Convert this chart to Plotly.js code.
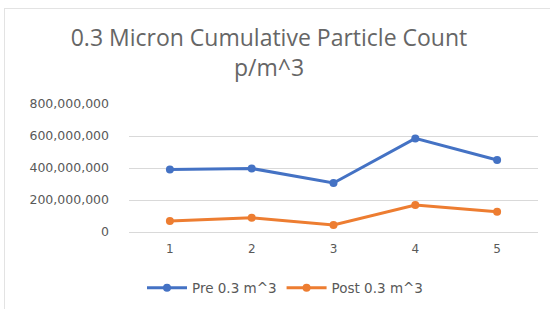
<!DOCTYPE html>
<html><head><meta charset="utf-8">
<script src="https://cdn.plot.ly/plotly-3.0.1.min.js"></script>
<style>html,body{margin:0;padding:0;background:#fff;}#frame{position:absolute;left:4px;top:8px;width:560px;height:320px;border:1px solid #e3e3e3;box-sizing:border-box;pointer-events:none;}</style>
</head><body>
<div id="chart" style="width:550px;height:309px;"></div>
<div id="frame"></div>
<script>
const categories = ["1", "2", "3", "4", "5"];
const preValues = [390000000, 397000000, 306000000, 585000000, 450000000];
const postValues = [69000000, 89000000, 44000000, 169000000, 127000000];
const yTicks = [0, 200000000, 400000000, 600000000, 800000000];
const yTickLabels = ["0", "200,000,000", "400,000,000", "600,000,000", "800,000,000"];

const wide = "DejaVu Sans, sans-serif";
const titleFont = "Open Sans, Lato, sans-serif";
const traces = [
  {x: categories, y: preValues, name: "Pre 0.3 m^3", type: "scatter", mode: "lines+markers",
   line: {color: "#4472C4", width: 3}, marker: {color: "#4472C4", size: 8}},
  {x: categories, y: postValues, name: "Post 0.3 m^3", type: "scatter", mode: "lines+markers",
   line: {color: "#ED7D31", width: 3}, marker: {color: "#ED7D31", size: 8}}
];
const layout = {
  width: 550, height: 309,
  margin: {l: 129, r: 12, t: 104, b: 77},
  paper_bgcolor: "#fff", plot_bgcolor: "#fff",
  font: {family: wide, color: "#595959", size: 12},
  title: {text: "0.3 Micron Cumulative Particle Count<br>p/m^3", x: 269/550, xref: "container", xanchor: "center",
    y: 1 - 46/309, yref: "container", yanchor: "middle", font: {size: 23, color: "#666666", family: titleFont}},
  xaxis: {type: "category", range: [-0.5, 4.5], showgrid: false, zeroline: false, showline: false, ticks: "",
    ticklabelstandoff: 8, tickfont: {size: 12, color: "#595959", family: wide}, automargin: false},
  yaxis: {range: [0, 800000000], tickvals: yTicks, ticktext: yTickLabels, showgrid: true, gridcolor: "#d9d9d9", gridwidth: 1,
    zeroline: true, zerolinecolor: "#d9d9d9", showline: false, ticks: "", ticklabelstandoff: 19, automargin: false,
    tickfont: {size: 12.5, color: "#595959", family: wide}},
  showlegend: true,
  legend: {orientation: "h", x: 285/550, xref: "container", xanchor: "center", y: (309 - 288)/309, yref: "container", yanchor: "middle",
    itemwidth: 40, font: {size: 13.5, color: "#595959", family: wide}}
};
Plotly.newPlot("chart", traces, layout, {displayModeBar: false, staticPlot: true});
</script>
</body></html>
